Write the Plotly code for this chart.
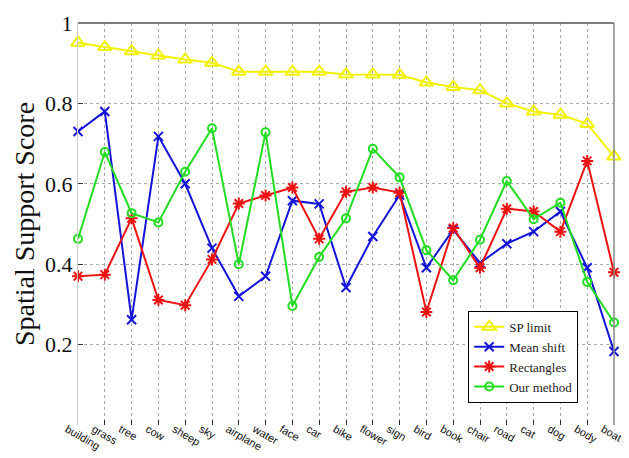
import plotly.graph_objects as go

categories = ["building", "grass", "tree", "cow", "sheep", "sky", "airplane", "water",
              "face", "car", "bike", "flower", "sign", "bird", "book", "chair", "road",
              "cat", "dog", "body", "boat"]

sp_limit = [0.951, 0.940, 0.930, 0.919, 0.909, 0.901, 0.879, 0.879, 0.879, 0.879, 0.872,
            0.872, 0.871, 0.852, 0.841, 0.833, 0.800, 0.780, 0.772, 0.749, 0.668]
mean_shift = [0.730, 0.780, 0.262, 0.718, 0.600, 0.440, 0.320, 0.370, 0.558, 0.550, 0.342,
              0.469, 0.572, 0.391, 0.486, 0.403, 0.451, 0.481, 0.531, 0.391, 0.183]
rectangles = [0.370, 0.374, 0.514, 0.311, 0.298, 0.412, 0.551, 0.571, 0.591, 0.463, 0.580,
              0.591, 0.578, 0.281, 0.490, 0.391, 0.538, 0.531, 0.481, 0.657, 0.380]
our_method = [0.463, 0.679, 0.527, 0.504, 0.630, 0.738, 0.400, 0.728, 0.296, 0.418, 0.514,
              0.687, 0.616, 0.435, 0.360, 0.461, 0.607, 0.512, 0.553, 0.356, 0.255]

y_ticks = [0.2, 0.4, 0.6, 0.8, 1.0]
y_tick_labels = ["0.2", "0.4", "0.6", "0.8", "1"]

x_idx = list(range(len(categories)))

series = [
    ("SP limit", sp_limit, "#f2f200", "triangle-up-open", 12),
    ("Mean shift", mean_shift, "#1414d8", "x-thin-open", 9),
    ("Rectangles", rectangles, "#ee1111", "asterisk-open", 10),
    ("Our method", our_method, "#22dd22", "circle-open", 8),
]

fig = go.Figure()
for name, vals, color, sym, size in series:
    fig.add_trace(go.Scatter(
        x=x_idx, y=vals, name=name, mode="lines+markers",
        line=dict(color=color, width=2),
        marker=dict(symbol=sym, size=size, color=color, line=dict(color=color, width=2)),
        cliponaxis=False,
    ))

fig.update_layout(
    width=629, height=458,
    margin=dict(l=70, r=23, t=15, b=41),
    paper_bgcolor="white", plot_bgcolor="white",
    showlegend=True,
    legend=dict(
        x=0.728, y=0.284, xanchor="left", yanchor="top",
        bgcolor="white", bordercolor="black", borderwidth=1,
        font=dict(family="Liberation Serif", size=13, color="#222"),
        tracegroupgap=0,
    ),
    xaxis=dict(
        range=[0, len(categories) - 1],
        tickmode="array", tickvals=x_idx, ticktext=categories,
        tickangle=30,
        tickfont=dict(family="Liberation Sans", size=11, color="#111"),
        ticklabelstandoff=-5, ticklabelshift=-11, ticklabeloverflow="allow",
        showgrid=True, gridcolor="#aaaaaa", griddash="dot", gridwidth=1,
        ticks="inside", ticklen=5, tickcolor="#333",
        showline=False, zeroline=False, automargin=False,
    ),
    yaxis=dict(
        range=[0.0, 1.0],
        tickmode="array", tickvals=y_ticks, ticktext=y_tick_labels,
        tickfont=dict(family="Liberation Serif", size=22, color="#111"),
        title=dict(text="Spatial Support Score",
                   font=dict(family="Liberation Serif", size=28, color="#111"),
                   standoff=2),
        showgrid=True, gridcolor="#aaaaaa", griddash="dot", gridwidth=1,
        ticks="inside", ticklen=5, tickcolor="#333",
        showline=True, linecolor="#cccccc", linewidth=1,
        zeroline=False, automargin=False,
    ),
    shapes=[
        dict(type="line", xref="paper", yref="paper", x0=0, x1=1, y0=1, y1=1,
             line=dict(color="#555555", width=1.5)),
        dict(type="line", xref="paper", yref="paper", x0=1, x1=1, y0=0, y1=1,
             line=dict(color="#888888", width=1.5)),
    ],
)

fig.write_html("out.html")
